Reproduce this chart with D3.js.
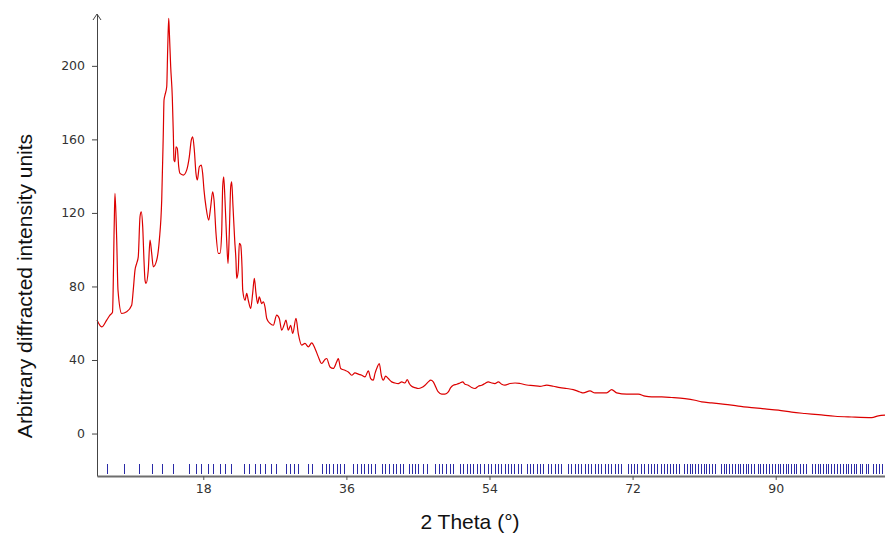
<!DOCTYPE html>
<html>
<head>
<meta charset="utf-8">
<script src="https://cdn.jsdelivr.net/npm/d3@7"></script>
<style>
  html, body { margin: 0; padding: 0; background: #fff; }
  svg { display: block; }
  .tick text { font-family: "DejaVu Sans", sans-serif; font-size: 12.5px; fill: #333; }
  .title { font-family: "Liberation Sans", Arial, sans-serif; font-size: 21px; fill: #111; }
</style>
</head>
<body>
<svg id="chart" width="885" height="536"></svg>
<script>
// Powder diffraction pattern: 2θ (degrees) against intensity
const twoTheta = [
  4.63, 5.22, 5.85, 6.26, 6.58, 6.80, 6.89, 7.11, 7.27, 7.74, 8.36, 8.99, 9.19, 9.41, 9.62, 9.82,
  10.04, 10.20, 10.38, 10.54, 10.67, 10.79, 11.08, 11.30, 11.51, 11.71, 12.14, 12.47, 12.77, 12.97,
  13.06, 13.18, 13.40, 13.52, 13.65, 13.72, 13.90, 14.10, 14.23, 14.31, 14.44, 14.57, 14.73, 14.91,
  15.07, 15.48, 15.91, 16.24, 16.49, 16.67, 16.87, 17.08, 17.25, 17.50, 17.75, 17.92, 18.09, 18.34,
  18.68, 18.93, 19.18, 19.35, 19.60, 19.89, 20.10, 20.31, 20.44, 20.57, 20.73, 20.94, 21.11, 21.27,
  21.45, 21.57, 21.74, 21.95, 22.11, 22.20, 22.40, 22.53, 22.70, 22.87, 22.96, 23.25, 23.46, 23.66,
  23.96, 24.21, 24.42, 24.63, 24.84, 25.04, 25.35, 25.55, 25.76, 25.98, 26.39, 26.81, 27.23, 27.56,
  27.86, 28.15, 28.40, 28.69, 28.99, 29.25, 29.66, 29.95, 30.38, 30.79, 31.21, 31.64, 32.05, 32.47,
  32.89, 33.31, 33.52, 33.94, 34.35, 34.78, 34.98, 35.28, 35.82, 36.24, 36.67, 37.08, 37.50, 37.93,
  38.34, 38.76, 39.06, 39.38, 39.60, 39.89, 40.14, 40.39, 40.64, 40.94, 41.27, 41.70, 42.11, 42.53,
  42.96, 43.37, 43.66, 43.91, 44.21, 44.63, 45.04, 45.47, 45.89, 46.30, 46.60, 46.93, 47.27, 47.56,
  47.99, 48.40, 48.82, 49.12, 49.45, 49.88, 50.29, 50.63, 50.92, 51.33, 51.76, 52.18, 52.59, 53.02,
  53.43, 53.85, 54.28, 54.69, 55.11, 55.54, 55.95, 56.58, 57.21, 57.84, 58.68, 59.51, 60.35, 61.20,
  62.03, 62.87, 63.71, 64.54, 65.39, 65.80, 66.64, 67.27, 68.74, 69.37, 70.00, 71.26, 72.72, 73.56,
  74.40, 75.66, 76.92, 78.59, 79.85, 80.69, 81.95, 83.62, 85.30, 86.98, 88.66, 90.33, 92.02, 93.69,
  95.36, 97.46, 99.56, 102.08, 102.91, 103.75
];
const intensity = [
  61.7, 58.0, 61.7, 64.4, 66.0, 114.4, 130.6, 105.2, 78.0, 65.3, 66.2, 69.8, 78.0, 88.9, 92.5, 96.1,
  117.9, 120.6, 112.4, 94.3, 83.4, 81.6, 88.9, 105.2, 98.0, 90.7, 94.3, 105.2, 127.0, 163.3,
  181.4, 184.1, 188.6, 208.6, 225.9, 219.5, 199.5, 183.2, 163.3, 148.7, 147.8, 156.0, 155.1, 145.1,
  141.5, 140.6, 143.3, 150.5, 159.6, 161.4, 154.2, 141.5, 137.9, 145.1, 146.0, 141.5, 132.4, 123.3,
  116.1, 123.3, 131.5, 127.0, 108.8, 98.0, 98.0, 108.8, 134.2, 139.6, 127.0, 105.2, 92.5, 108.8,
  134.2, 136.9, 123.3, 105.2, 94.3, 84.4, 88.9, 103.4, 102.5, 90.7, 78.0, 72.5, 76.2, 72.5,
  68.0, 76.2, 84.4, 76.2, 70.7, 74.3, 70.7, 71.6, 68.9, 62.6, 59.9, 58.9, 64.4, 62.6,
  56.2, 58.9, 61.7, 56.2, 58.9, 54.4, 62.6, 54.4, 48.1, 49.0, 47.1, 49.3, 46.3, 41.7,
  38.1, 40.3, 40.8, 36.2, 35.4, 39.0, 40.8, 35.4, 34.4, 33.5, 31.7, 33.0, 32.3, 31.7,
  30.8, 34.1, 29.9, 29.0, 32.7, 36.2, 38.1, 31.7, 29.0, 31.2, 29.9, 28.1, 27.5, 27.2,
  28.1, 27.5, 29.4, 27.2, 25.7, 25.0, 24.5, 25.0, 26.3, 28.1, 29.0, 28.1, 25.0, 22.6,
  21.4, 21.4, 22.6, 25.0, 26.3, 26.8, 27.5, 28.1, 26.8, 26.3, 25.0, 24.5, 25.7, 26.3,
  27.2, 28.1, 27.5, 27.2, 28.1, 26.8, 26.3, 27.2, 27.5, 27.2, 26.4, 26.1, 25.7, 26.3,
  25.7, 25.0, 24.5, 23.9, 22.6, 22.1, 23.2, 22.1, 22.1, 23.9, 22.1, 21.4, 21.4, 20.3,
  19.9, 19.9, 19.6, 19.0, 18.1, 17.2, 16.7, 15.9, 14.9, 14.1, 13.4, 12.7, 11.6, 10.9,
  10.3, 9.4, 9.0, 8.7, 9.6, 10.0
];

// Calculated reflection positions (2θ)
const reflections = [
  5.89, 8.02, 9.91, 11.55, 12.80, 14.19,
  16.20, 17.08, 17.71, 18.59, 19.22, 20.10, 20.73, 21.48,
  23.12, 23.75, 24.50, 25.13, 25.76, 26.52, 27.14,
  28.40, 28.91, 29.41, 29.91, 31.17, 31.67,
  32.93, 33.43, 33.81, 34.32, 34.82, 35.20, 35.70,
  36.83, 37.33, 37.84, 38.21, 38.72, 39.09, 39.60,
  40.48, 40.86, 41.36, 41.86, 42.24, 42.74, 43.12,
  43.87, 44.25, 44.63, 45.01, 45.64, 46.14,
  47.15, 47.65, 48.03, 48.53, 49.03, 49.41,
  50.29, 50.67, 51.17, 51.55, 51.93, 52.43, 52.81, 53.31, 53.81, 54.19, 54.69, 55.07, 55.45,
  55.95, 56.33, 56.71, 57.08, 57.59, 57.96,
  58.72, 59.10, 59.47, 59.98, 60.35, 60.73,
  61.36, 61.74, 62.24, 62.62, 63.00,
  63.88, 64.25, 64.76, 65.13, 65.51, 66.01, 66.39, 66.77, 67.27, 67.65, 68.03, 68.53, 68.91,
  69.28, 69.79, 70.16, 70.54,
  71.42, 71.80, 72.18, 72.55, 73.06, 73.44, 73.94, 74.32, 74.69, 75.07, 75.57, 75.95,
  76.33, 76.71, 77.08, 77.46, 77.84,
  78.47, 78.84, 79.22, 79.47, 79.85, 80.23, 80.61, 80.98, 81.23, 81.61, 81.99, 82.37,
  83.12, 83.50, 83.75, 84.13, 84.51, 84.88, 85.26, 85.51, 85.89, 86.27, 86.52, 86.89,
  87.27, 87.77, 88.03, 88.40, 88.78, 89.16, 89.54,
  89.91, 90.29, 90.54, 90.92, 91.30, 91.55, 91.93, 92.31, 92.56, 93.06, 93.44, 93.81,
  94.57, 94.95, 95.32, 95.57, 95.95, 96.33,
  96.58, 96.96, 97.34, 97.71, 98.09, 98.47, 98.85, 99.10, 99.47, 99.85, 100.10, 100.61, 100.86,
  101.36, 101.61, 102.24, 102.62, 103.00, 103.37
];

const yTicks = [0, 40, 80, 120, 160, 200];
const xTicks = [18, 36, 54, 72, 90];

const svg = d3.select("#chart");
const margin = { left: 97, top: 14, right: 0, bottom: 60 };
const W = 885, H = 536;
const plotBottom = H - margin.bottom;

const x = d3.scaleLinear().domain([4.63, 103.75]).range([margin.left, W - margin.right]);
const y = d3.scaleLinear().domain([-23.1, 228.2]).range([plotBottom, margin.top]);

// reflection markers along the bottom of the plot, snapped to pixel centres
const snap = v => Math.round(v) + 0.5;
svg.append("g")
  .selectAll("line")
  .data(reflections)
  .join("line")
  .attr("x1", d => snap(x(d))).attr("x2", d => snap(x(d)))
  .attr("y1", plotBottom - 2).attr("y2", plotBottom - 12)
  .attr("stroke", "#2a2aa6")
  .attr("stroke-width", 1);

// measured pattern
const points = twoTheta.map((t, i) => [t, intensity[i]]);
svg.append("path")
  .datum(points)
  .attr("fill", "none")
  .attr("stroke", "#dc0000")
  .attr("stroke-width", 1.2)
  .attr("stroke-linejoin", "round")
  .attr("d", d3.line().curve(d3.curveMonotoneX).x(d => x(d[0])).y(d => y(d[1])));

// y axis
const gy = svg.append("g")
  .attr("transform", `translate(${margin.left},0)`)
  .call(d3.axisLeft(y).tickValues(yTicks).tickSize(5).tickSizeOuter(0).tickPadding(7));
gy.select(".domain").attr("stroke", "#444");
gy.selectAll(".tick line").attr("stroke", "#444");

// arrow head on the y axis
svg.append("path")
  .attr("d", `M${margin.left - 4},${margin.top + 6} L${margin.left},${margin.top} L${margin.left + 4},${margin.top + 6}`)
  .attr("fill", "none")
  .attr("stroke", "#444")
  .attr("stroke-width", 1);

// x axis
const gx = svg.append("g")
  .attr("transform", `translate(0,${plotBottom})`)
  .call(d3.axisBottom(x).tickValues(xTicks).tickSize(4).tickSizeOuter(0).tickPadding(4));
gx.select(".domain").attr("stroke", "#6e6e6e").attr("stroke-width", 2);
gx.selectAll(".tick line").attr("stroke", "#555");

// axis titles
svg.append("text")
  .attr("class", "title")
  .attr("transform", "translate(32,286) rotate(-90)")
  .attr("text-anchor", "middle")
  .text("Arbitrary diffracted intensity units");

svg.append("text")
  .attr("class", "title")
  .attr("x", 470).attr("y", 529)
  .attr("text-anchor", "middle")
  .text("2 Theta (°)");
</script>
</body>
</html>
